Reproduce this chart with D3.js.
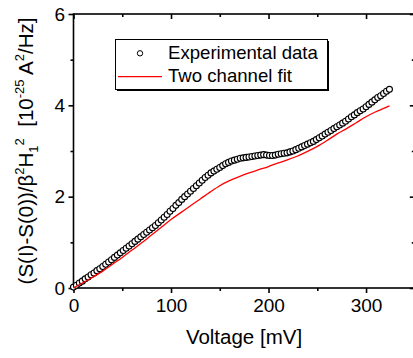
<!DOCTYPE html>
<html><head><meta charset="utf-8">
<script src="https://cdn.jsdelivr.net/npm/d3@7"></script>
<style>body{margin:0;background:#fff}svg{display:block}text{font-family:"Liberation Sans",Arial,Helvetica,sans-serif}</style>
</head><body><svg id="c" width="413" height="358"></svg>
<script>
// Experimental data (voltage in mV, value in 1e-25 A^2/Hz)
const expVoltage = [0,3,6,9,12,15,18,21,24,27,30,33,36,39,42,45,48,51,54,57,60,63,66,69,72,75,78,81,84,87,90,93,96,99,102,105,108,111,114,117,120,123,126,129,132,135,138,141,144,147,150,153,156,159,162,165,168,171,174,177,180,183,186,189,192,195,198,201,204,207,210,213,216,219,222,225,228,231,234,237,240,243,246,249,252,255,258,261,264,267,270,273,276,279,282,285,288,291,294,297,300,303,306,309,312,315,318,321,324];
const expValue = [0.02,0.06,0.11,0.15,0.20,0.24,0.29,0.33,0.38,0.42,0.47,0.52,0.57,0.62,0.67,0.72,0.77,0.82,0.87,0.92,0.97,1.02,1.07,1.12,1.17,1.22,1.27,1.32,1.37,1.43,1.49,1.55,1.61,1.68,1.74,1.81,1.87,1.94,2.00,2.06,2.12,2.18,2.24,2.30,2.36,2.42,2.47,2.52,2.56,2.60,2.64,2.68,2.72,2.75,2.78,2.80,2.82,2.84,2.85,2.86,2.87,2.88,2.89,2.90,2.91,2.92,2.91,2.90,2.90,2.91,2.93,2.94,2.95,2.96,2.98,3.00,3.03,3.06,3.09,3.12,3.15,3.18,3.21,3.25,3.29,3.33,3.37,3.41,3.45,3.49,3.53,3.57,3.61,3.65,3.70,3.75,3.79,3.84,3.88,3.92,3.97,4.02,4.07,4.12,4.17,4.21,4.26,4.31,4.35];
// Two channel fit
const fitVoltage = [0,10,20,30,40,50,60,70,80,90,100,110,120,130,140,150,160,170,180,190,200,210,220,230,240,250,260,270,280,290,300,310,320,324];
const fitValue = [0,0.12,0.24,0.37,0.52,0.67,0.83,0.99,1.16,1.33,1.50,1.65,1.80,1.95,2.10,2.24,2.35,2.44,2.52,2.59,2.66,2.74,2.81,2.89,2.99,3.10,3.23,3.37,3.49,3.62,3.75,3.86,3.95,3.99];
const xMajor = [0,100,200,300];
const xMinor = [50,150,250];
const yMajor = [0,2,4,6];
const yMinor = [1,3,5];
const legendLabels = ["Experimental data","Two channel fit"];

const svg = d3.select("#c");
const x = d3.scaleLinear().domain([0,350]).range([73.5,414.8]);
const y = d3.scaleLinear().domain([0,6]).range([288,14]);
const AX = 1.6, FS = 19;

function styleAxis(g){
  g.select(".domain").remove();
  g.selectAll(".tick line").attr("stroke","#000").attr("stroke-width",AX);
  g.selectAll(".tick text").attr("font-size",FS).attr("fill","#000").attr("font-family",'"Liberation Sans",Arial,sans-serif');
}
// bottom
svg.append("g").attr("transform",`translate(0,${y(0)})`)
  .call(d3.axisBottom(x).tickValues(xMajor).tickSize(5).tickPadding(6).tickFormat(d3.format("d"))).call(styleAxis);
svg.append("g").attr("transform",`translate(0,${y(0)})`)
  .call(d3.axisBottom(x).tickValues(xMinor).tickSize(3).tickFormat("")).call(styleAxis);
// top (inward)
svg.append("g").attr("transform",`translate(0,${y(6)})`)
  .call(d3.axisTop(x).tickValues(xMajor).tickSize(-5).tickFormat("")).call(styleAxis);
svg.append("g").attr("transform",`translate(0,${y(6)})`)
  .call(d3.axisTop(x).tickValues(xMinor).tickSize(-3).tickFormat("")).call(styleAxis);
// left
svg.append("g").attr("transform",`translate(${x(0)},0)`)
  .call(d3.axisLeft(y).tickValues(yMajor).tickSize(5).tickPadding(3.5).tickFormat(d3.format("d"))).call(styleAxis);
svg.append("g").attr("transform",`translate(${x(0)},0)`)
  .call(d3.axisLeft(y).tickValues(yMinor).tickSize(3).tickFormat("")).call(styleAxis);
// right (inward)
svg.append("g").attr("transform",`translate(${x(350)},0)`)
  .call(d3.axisRight(y).tickValues(yMajor).tickSize(-5).tickFormat("")).call(styleAxis);
svg.append("g").attr("transform",`translate(${x(350)},0)`)
  .call(d3.axisRight(y).tickValues(yMinor).tickSize(-3).tickFormat("")).call(styleAxis);
// frame
svg.append("rect").attr("x",x(0)).attr("y",y(6)).attr("width",x(350)-x(0)).attr("height",y(0)-y(6))
  .attr("fill","none").attr("stroke","#000").attr("stroke-width",AX);

// data circles
const expData = expVoltage.map((v,i)=>({v, s:expValue[i]}));
svg.append("g").selectAll("circle").data(expData).join("circle")
  .attr("cx",d=>x(d.v)).attr("cy",d=>y(d.s)).attr("r",3)
  .attr("fill","#fff").attr("stroke","#000").attr("stroke-width",1.1);
// fit line
const fitData = fitVoltage.map((v,i)=>({v, s:fitValue[i]}));
svg.append("path").datum(fitData)
  .attr("d",d3.line().x(d=>x(d.v)).y(d=>y(d.s)).curve(d3.curveMonotoneX))
  .attr("fill","none").attr("stroke","#ff0000").attr("stroke-width",1.3);

// legend
const lg = svg.append("g");
lg.append("rect").attr("x",117).attr("y",41).attr("width",212).attr("height",50).attr("fill","#000");
lg.append("rect").attr("x",115.5).attr("y",39.5).attr("width",212).attr("height",50).attr("fill","#fff").attr("stroke","#000").attr("stroke-width",1);
lg.append("circle").attr("cx",140).attr("cy",53.3).attr("r",2.7).attr("fill","#fff").attr("stroke","#000").attr("stroke-width",1);
lg.append("line").attr("x1",118).attr("x2",162).attr("y1",76.7).attr("y2",76.7).attr("stroke","#ff0000").attr("stroke-width",1.3);
lg.selectAll("text.lt").data(legendLabels).join("text").attr("class","lt")
  .attr("x",168).attr("y",(d,i)=>58.5+i*23.3).attr("font-size",18.6).attr("fill","#000").text(d=>d);

// x title
svg.append("text").attr("x",244).attr("y",344).attr("text-anchor","middle").attr("font-size",20.5).attr("fill","#000").text("Voltage [mV]");
// y title
const yt = svg.append("text").attr("transform","translate(33,151) rotate(-90)").attr("text-anchor","middle")
  .attr("font-size",20.5).attr("fill","#000");
const parts = [
  ["(S(I)-S(0))/β",0],["2",1],["H",0],["1",-1],["2",1],["  [10",0],["-25",1],[" A",0],["2",1],["/Hz]",0]
];
let prev = 0;
parts.forEach(([t,k])=>{
  const sz = k===0 ? 20.5 : 13;
  const shift = k===1 ? -9 : (k===-1 ? 5 : 0);
  yt.append("tspan").attr("font-size",sz).attr("dy",shift-prev).text(t).attr("xml:space","preserve");
  prev = shift;
});
</script></body></html>
